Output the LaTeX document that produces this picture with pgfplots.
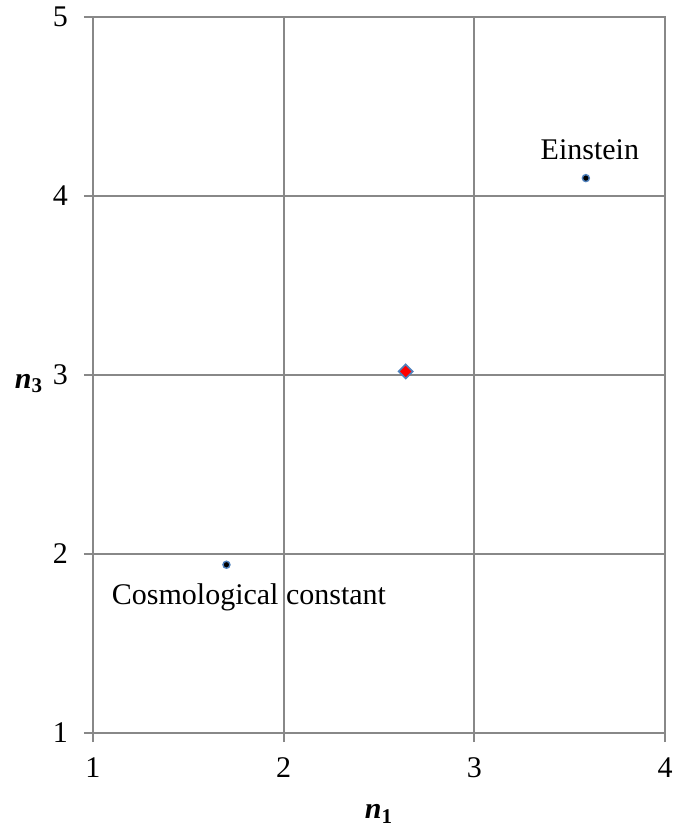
\documentclass[border=0pt]{standalone}
\usepackage{fontspec}
\setmainfont{Liberation Serif}
\usepackage{pgfplots}
\pgfplotsset{compat=1.18}
\definecolor{gridgray}{HTML}{888888}
\definecolor{mblue}{HTML}{4F81BD}
\begin{document}
\begin{tikzpicture}
\begin{axis}[
  scale only axis,
  width=286pt, height=358pt,
  xmin=1, xmax=4, ymin=1, ymax=5,
  xtick={1,2,3,4}, ytick={1,2,3,4,5},
  grid=major,
  major grid style={gridgray, line width=1pt},
  axis line style={gridgray, line width=1pt},
  every tick/.style={gridgray, line width=1pt},
  tick align=outside,
  major tick length=4.5pt,
  xtick pos=bottom, ytick pos=left,
  font=\fontsize{15}{18}\selectfont,
  /pgf/number format/assume math mode=true,
  yticklabel style={anchor=east, xshift=-4.5pt},
  xticklabel style={anchor=north, yshift=-4.5pt},
  xlabel={\textbf{\textit{n}}\textsubscript{\textbf{1}}},
  ylabel={\textbf{\textit{n}}\textsubscript{\textbf{3}}},
  xlabel style={at={(axis description cs:0.5,-0.113)}, anchor=center},
  ylabel style={at={(axis description cs:-0.1120,0.488)}, anchor=center, rotate=-90},
  clip=false,
]
\coordinate (SW) at (rel axis cs:0,0);
\coordinate (NE) at (rel axis cs:1,1);
\addplot[only marks, mark=*, mark size=1.75pt, mark options={fill=black, draw=mblue, line width=0.7pt}]
  coordinates {(1.70,1.94) (3.585,4.10)};
\addplot[only marks, mark=square*, mark size=2.5pt, mark options={rotate=45, fill=red, draw=mblue, line width=0.8pt}]
  coordinates {(2.64,3.02)};
\node at (axis cs:3.606,4.257) {Einstein};
\node at (axis cs:1.818,1.76) {Cosmological constant};
\end{axis}
\pgfresetboundingbox
\path ([xshift=-46.5pt,yshift=-48pt]SW) rectangle ([xshift=4.5pt,yshift=8.5pt]NE);
\end{tikzpicture}
\end{document}
